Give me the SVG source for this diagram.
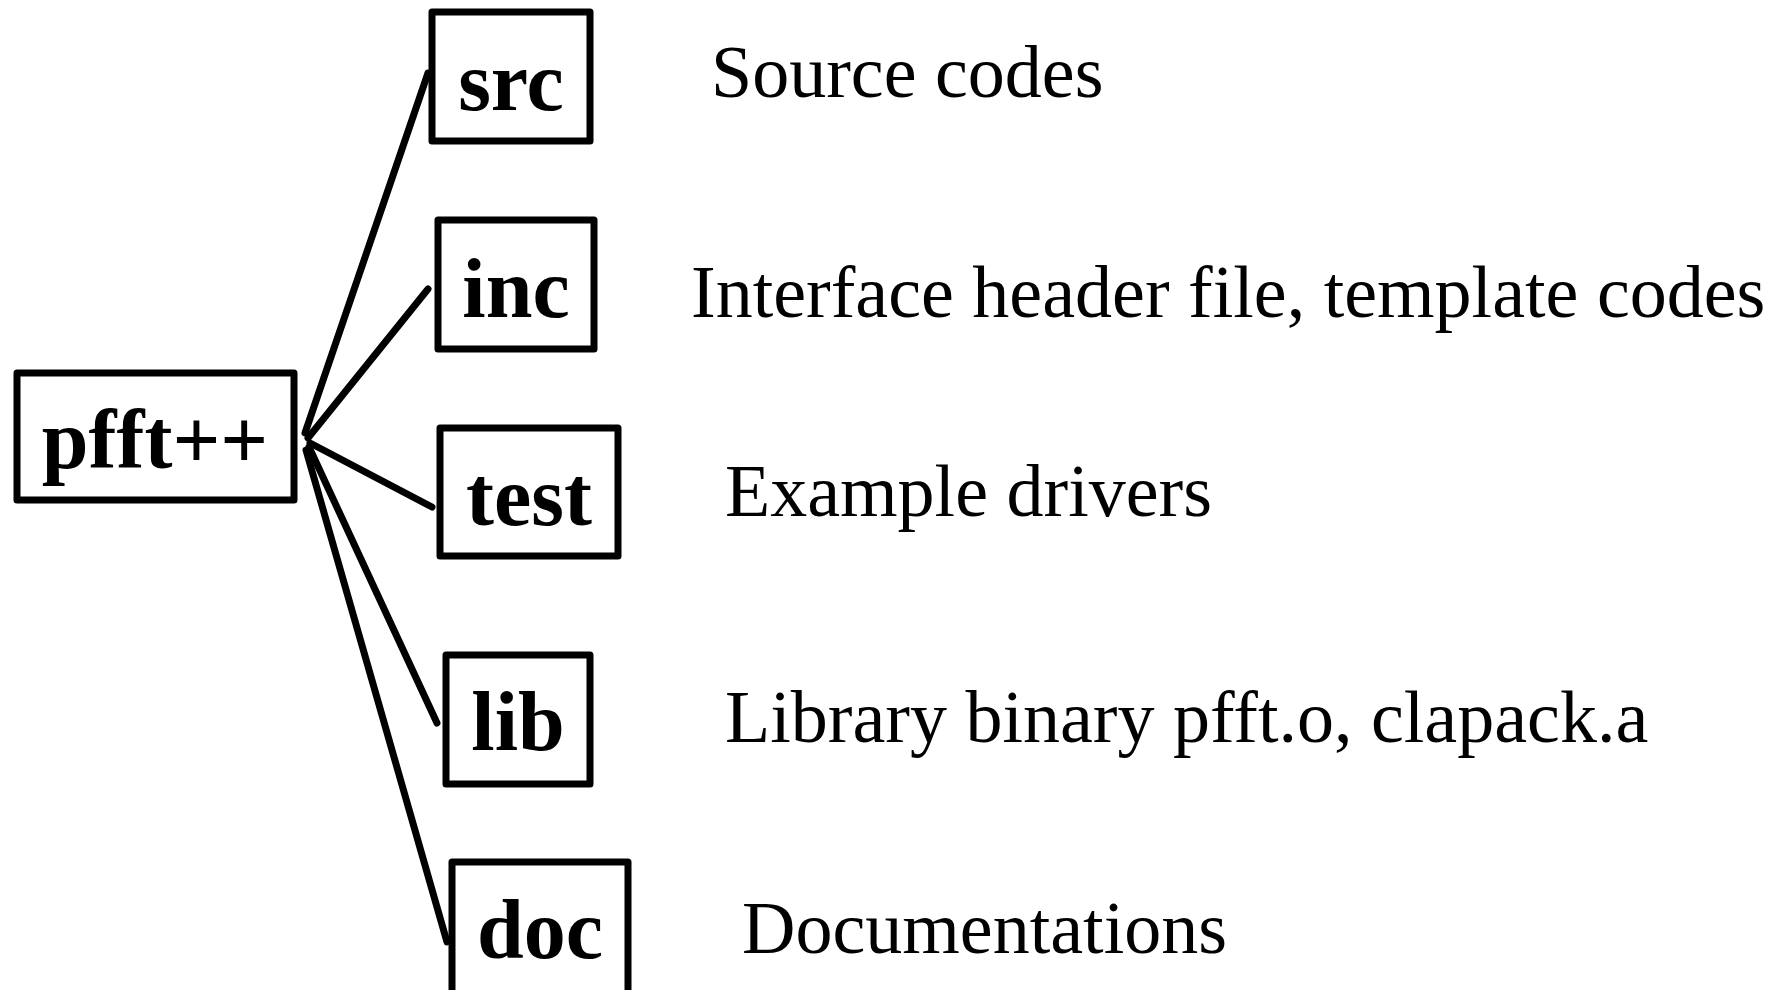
<svg xmlns="http://www.w3.org/2000/svg" width="1791" height="990" viewBox="0 0 1791 990">
  <style>
    .box { fill: #fff; stroke: #000; stroke-width: 7; stroke-linejoin: round; }
    .name { font-family: "Liberation Serif", "Times New Roman", serif; font-weight: bold; font-size: 84px; fill: #000; text-anchor: middle; }
    .desc { font-family: "Liberation Serif", "Times New Roman", serif; font-size: 74px; fill: #000; }
    .link { stroke: #000; stroke-width: 7; stroke-linecap: round; fill: none; }
  </style>
  <rect width="1791" height="990" fill="#fff"/>

  <!-- branches from the root folder to each subfolder -->
  <g id="connectors">
    <line class="link" x1="305" y1="433" x2="428" y2="73"/>
    <line class="link" x1="308" y1="438" x2="428" y2="289"/>
    <line class="link" x1="310" y1="443" x2="432" y2="507"/>
    <line class="link" x1="309" y1="447" x2="437" y2="723"/>
    <line class="link" x1="306" y1="450" x2="447" y2="942"/>
  </g>

  <g id="root">
    <rect class="box" x="17" y="373" width="277" height="127"/>
    <text class="name" x="155" y="468">pfft++</text>
  </g>

  <g id="src">
    <rect class="box" x="432" y="12" width="158" height="129"/>
    <text class="name" x="511" y="110">src</text>
    <text class="desc" x="711" y="97">Source codes</text>
  </g>

  <g id="inc">
    <rect class="box" x="438" y="220" width="156" height="129"/>
    <text class="name" x="516" y="317">inc</text>
    <text class="desc" x="691" y="317">Interface header file, template codes</text>
  </g>

  <g id="test">
    <rect class="box" x="440" y="428" width="178" height="128"/>
    <text class="name" x="529" y="525">test</text>
    <text class="desc" x="725" y="516">Example drivers</text>
  </g>

  <g id="lib">
    <rect class="box" x="446" y="655" width="144" height="129"/>
    <text class="name" x="518" y="750">lib</text>
    <text class="desc" x="725" y="742">Library binary pfft.o, clapack.a</text>
  </g>

  <g id="doc">
    <rect class="box" x="452" y="862" width="176" height="150"/>
    <text class="name" x="540" y="958">doc</text>
    <text class="desc" x="742" y="953">Documentations</text>
  </g>
</svg>
